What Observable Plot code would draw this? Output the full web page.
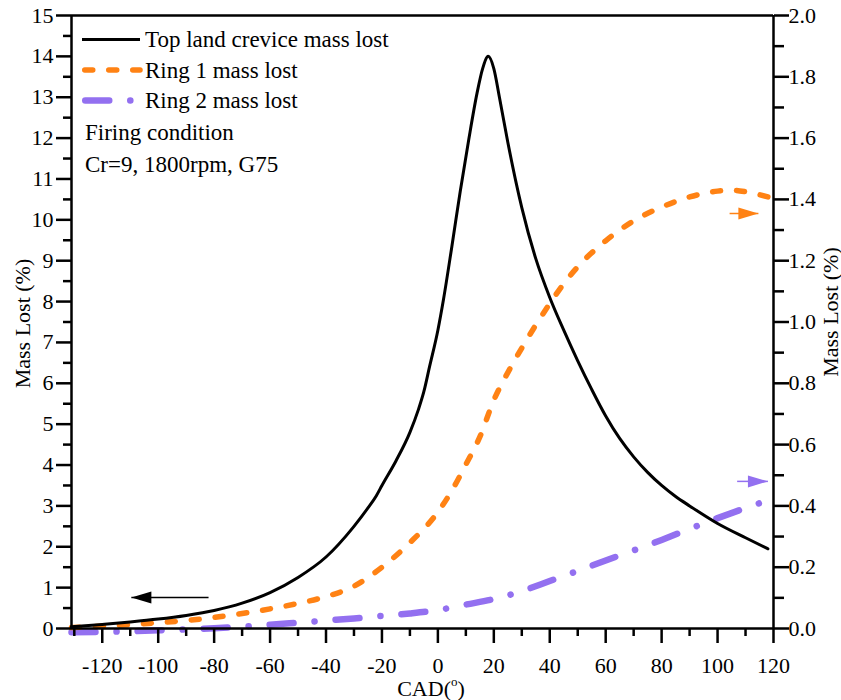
<!DOCTYPE html>
<html>
<head>
<meta charset="utf-8">
<script src="https://cdn.jsdelivr.net/npm/d3@7"></script>
<script src="https://cdn.jsdelivr.net/npm/@observablehq/plot@0.6"></script>
<style>
  body { margin: 0; background: #fff; }
</style>
</head>
<body>
<div id="chart"></div>
<script>
// Crank angle (degrees) and mass lost for each crevice region.
// Top land values read on the left axis (%), ring values on the right axis (%).
const topLandCad  = [-131, -120, -110, -100, -90, -80, -70, -60, -50, -40, -30, -25, -22, -20, -15, -10, -7, -5, -3, 0, 2, 5, 8, 11, 14, 16, 18, 20, 22, 25, 30, 35, 40, 45, 50, 55, 60, 65, 70, 75, 80, 85, 90, 100, 110, 118];
const topLandLost = [0.04, 0.1, 0.16, 0.23, 0.32, 0.44, 0.62, 0.88, 1.25, 1.75, 2.5, 2.95, 3.25, 3.5, 4.1, 4.8, 5.35, 5.8, 6.4, 7.3, 8.05, 9.35, 10.7, 11.95, 13.1, 13.7, 14.0, 13.7, 13.0, 11.9, 10.3, 9.05, 8.1, 7.3, 6.55, 5.85, 5.2, 4.65, 4.2, 3.82, 3.5, 3.23, 3.0, 2.57, 2.22, 1.95];

const ring1Cad  = [-131, -120, -110, -100, -90, -80, -70, -60, -50, -40, -30, -20, -10, 0, 5, 10, 15, 20, 25, 30, 35, 40, 45, 50, 60, 70, 80, 90, 100, 105, 110, 118];
const ring1Lost = [0.003, 0.008, 0.013, 0.019, 0.026, 0.036, 0.049, 0.064, 0.082, 0.104, 0.138, 0.2, 0.28, 0.38, 0.45, 0.535, 0.625, 0.745, 0.835, 0.915, 0.99, 1.06, 1.125, 1.18, 1.265, 1.33, 1.375, 1.408, 1.427, 1.43, 1.425, 1.408];

const ring2Cad  = [-131, -120, -110, -100, -90, -80, -70, -60, -50, -40, -30, -20, -10, 0, 10, 20, 30, 40, 50, 60, 70, 80, 90, 100, 110, 118];
const ring2Lost = [-0.012, -0.011, -0.009, -0.006, -0.003, 0.001, 0.006, 0.012, 0.019, 0.026, 0.033, 0.041, 0.049, 0.06, 0.078, 0.096, 0.122, 0.155, 0.188, 0.222, 0.255, 0.289, 0.325, 0.36, 0.393, 0.418];

// Axis-pointer arrows: which axis each curve belongs to.
const arrowSeries = ["Top land", "Ring 1", "Ring 2"];
const arrowAxis   = ["left", "right", "right"];
const arrowTail   = [-82, 104.3, 107];
const arrowTip    = [-109.6, 114.6, 118];
const arrowLevel  = [0.76, 1.354, 0.48];

// Tick values.
const xMajor = [-120, -100, -80, -60, -40, -20, 0, 20, 40, 60, 80, 100, 120];
const xMinor = [-130, -110, -90, -70, -50, -30, -10, 10, 30, 50, 70, 90, 110];
const leftMajor = d3.range(0, 16, 1);
const leftMinor = d3.range(0.5, 15, 1);
const rightMajor = [0, 0.2, 0.4, 0.6, 0.8, 1.0, 1.2, 1.4, 1.6, 1.8, 2.0];
const rightMinor = [0.1, 0.3, 0.5, 0.7, 0.9, 1.1, 1.3, 1.5, 1.7, 1.9];

// Legend entries.
const legendLabels = ["Top land crevice mass lost", "Ring 1 mass lost", "Ring 2 mass lost"];
const noteLines = ["Firing condition", "Cr=9, 1800rpm, G75"];

const BLACK = "#000000";
const ORANGE = "#ff8214";
const PURPLE = "#9370f0";
const seriesColor = {"Top land": BLACK, "Ring 1": ORANGE, "Ring 2": PURPLE};

// The right axis (0–2 %) shares the frame with the left axis (0–15 %).
const R = 15 / 2;
const FONT = "'Liberation Serif', 'Times New Roman', serif";

const topLand = topLandCad.map((x, i) => ({x, y: topLandLost[i]}));
const ring1 = ring1Cad.map((x, i) => ({x, y: ring1Lost[i] * R}));
const ring2 = ring2Cad.map((x, i) => ({x, y: ring2Lost[i] * R}));
const arrows = arrowSeries.map((s, i) => ({
  color: seriesColor[s],
  tail: arrowTail[i],
  tip: arrowTip[i],
  y: arrowAxis[i] === "right" ? arrowLevel[i] * R : arrowLevel[i]
}));

// Filled, elongated arrowhead with its tip at the origin, pointing up.
const arrowHead = {
  draw(context) {
    context.moveTo(0, 0);
    context.lineTo(-6, 20);
    context.lineTo(6, 20);
    context.closePath();
  }
};

const blankFormat = () => "";

const plot = Plot.plot({
  width: 841,
  height: 700,
  marginLeft: 71,
  marginRight: 68,
  marginTop: 15,
  marginBottom: 72,
  style: {fontSize: "22px", color: "#000", background: "#fff", overflow: "visible"},
  x: {domain: [-131, 120], label: null},
  y: {domain: [0, 15], label: null},
  color: {type: "identity"},
  marks: [
    Plot.line(ring2, {x: "x", y: "y", stroke: PURPLE, strokeWidth: 6.5, strokeDasharray: "24,21,0.1,21", strokeLinecap: "round", curve: "monotone-x"}),
    Plot.line(ring1, {x: "x", y: "y", stroke: ORANGE, strokeWidth: 5.5, strokeDasharray: "8,16", strokeLinecap: "round", curve: "monotone-x"}),
    Plot.line(topLand, {x: "x", y: "y", stroke: BLACK, strokeWidth: 3, curve: "monotone-x"}),

    Plot.link(arrows, {x1: "tail", x2: "tip", y1: "y", y2: "y", stroke: "color", strokeWidth: 1.5}),
    Plot.dot(arrows, {x: "tip", y: "y", symbol: arrowHead, rotate: d => d.tip < d.tail ? -90 : 90, fill: "color", stroke: "none"}),

    // Frame: left, right, bottom and top lines
    Plot.ruleX([-131, 120], {stroke: BLACK, strokeWidth: 2.5}),
    Plot.ruleY([0, 15], {stroke: BLACK, strokeWidth: 2.5}),

    // Bottom axis
    Plot.axisX({ticks: xMajor, tickSize: 15, tickPadding: 14, strokeWidth: 2.5, tickFormat: d => `${d}`, label: null}),
    Plot.axisX({ticks: xMinor, tickSize: 8, strokeWidth: 2.5, tickFormat: blankFormat, label: null}),

    // Left axis
    Plot.axisY({anchor: "left", ticks: leftMajor, tickSize: 15, tickPadding: 3, strokeWidth: 2.5, tickFormat: d => `${d}`, label: null}),
    Plot.axisY({anchor: "left", ticks: leftMinor, tickSize: 8, strokeWidth: 2.5, tickFormat: blankFormat, label: null}),

    // Right axis, labelled in its own units
    Plot.axisY({anchor: "right", ticks: rightMajor.map(v => v * R), tickSize: 15, tickPadding: 0, strokeWidth: 2.5, tickFormat: d => (d / R).toFixed(1), label: null}),
    Plot.axisY({anchor: "right", ticks: rightMinor.map(v => v * R), tickSize: 10, strokeWidth: 2.5, tickFormat: blankFormat, label: null}),

    // Axis titles
    Plot.text(["Mass Lost (%)"], {text: d => d, frameAnchor: "left", dx: -49, dy: 1.5, rotate: -90, textAnchor: "middle", lineAnchor: "middle", fill: BLACK}),
    Plot.text(["Mass Lost (%)"], {text: d => d, frameAnchor: "right", dx: 57, dy: -10, rotate: -90, textAnchor: "middle", lineAnchor: "middle", fill: BLACK})
  ]
});

const svg = d3.select(plot);

// x-axis title with a superscript degree mark
const xTitle = svg.append("text")
  .attr("x", 431).attr("y", 696)
  .attr("text-anchor", "middle")
  .attr("font-size", 22).attr("fill", BLACK);
xTitle.append("tspan").text("CAD(");
xTitle.append("tspan").attr("font-size", 13).attr("dy", -10).text("o");
xTitle.append("tspan").attr("dy", 10).text(")");

// In-frame legend
const legend = svg.append("g")
  .attr("font-size", 23)
  .attr("text-anchor", "start").attr("fill", BLACK);
const legendStyles = [
  {stroke: BLACK, width: 3, dash: null, cap: "butt"},
  {stroke: ORANGE, width: 5.5, dash: "8,16", cap: "round"},
  {stroke: PURPLE, width: 6.5, dash: "24,21,0.1,21", cap: "round"}
];
const rowLine = [39.5, 70, 100.5];
const rowBase = [47, 78, 108];
legendLabels.forEach((label, i) => {
  const s = legendStyles[i];
  const x0 = s.cap === "round" ? 82 + s.width / 2 : 82;
  legend.append("line")
    .attr("x1", x0).attr("x2", 140)
    .attr("y1", rowLine[i]).attr("y2", rowLine[i])
    .attr("stroke", s.stroke).attr("stroke-width", s.width)
    .attr("stroke-linecap", s.cap)
    .attr("stroke-dasharray", s.dash);
  legend.append("text").attr("x", 145).attr("y", rowBase[i]).text(label);
});
const noteBase = [140, 172];
noteLines.forEach((t, i) => {
  legend.append("text").attr("x", 85).attr("y", noteBase[i]).text(t);
});

// One serif face for every label, ticks included
svg.selectAll("text")
  .style("font-family", FONT)
  .style("font-variant", "normal");

document.getElementById("chart").appendChild(plot);
</script>
</body>
</html>
